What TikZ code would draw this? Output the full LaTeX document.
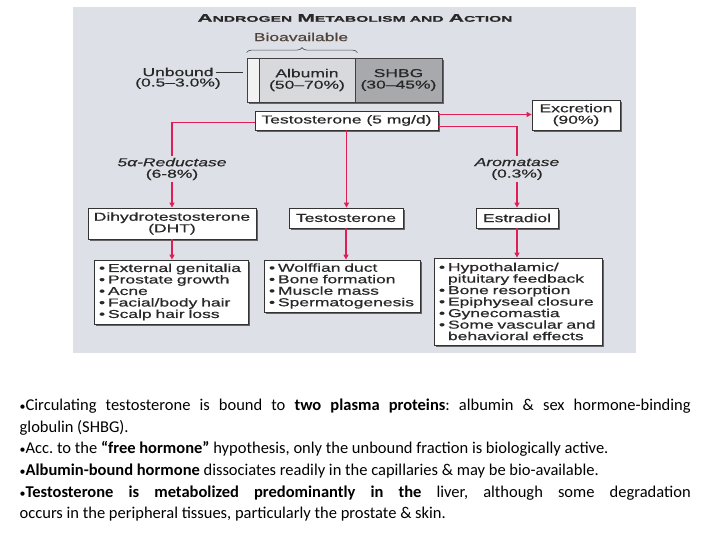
\documentclass[tikz,border=0pt]{standalone}
\usepackage{fontspec}
\usetikzlibrary{arrows.meta,shadows,decorations.pathreplacing}
\newfontfamily\df[FakeStretch=1.52,FakeBold=0.7]{Liberation Sans}
\newfontfamily\tf[FakeStretch=1.9,FakeBold=0.8]{Liberation Sans}
\newfontfamily\cb{Carlito}
\definecolor{panel}{RGB}{221,225,231}
\definecolor{redl}{RGB}{222,30,85}
\definecolor{txt}{RGB}{40,40,40}
\definecolor{albc}{RGB}{216,217,220}
\definecolor{shbgc}{RGB}{168,169,172}
\definecolor{stripc}{RGB}{242,242,242}
\definecolor{bioc}{RGB}{80,66,56}
\newcommand{\bi}{\makebox[9pt][l]{•}}
\newcommand{\ci}{\hspace*{9pt}}
\newcommand{\tsc}[2]{{\fontsize{11}{12}\selectfont #1}{\fontsize{8.2}{12}\selectfont #2}}
\newcommand{\bul}{{\fontsize{12}{12}\selectfont •}}
\begin{document}
\begin{tikzpicture}[x=1pt,y=-1pt,
  dfont/.style={font=\df\fontsize{11.5}{11.5}\selectfont, text=txt},
  wbox/.style={draw=black!80, line width=0.8pt, fill=white, inner sep=0pt,
    drop shadow={shadow xshift=2pt,shadow yshift=-2pt,fill=black!60,opacity=1},
    dfont, align=center},
  lbox/.style={wbox, align=left, inner xsep=5pt},
  lab/.style={dfont, align=center, inner sep=2pt},
  rline/.style={draw=redl, line width=1.3pt},
  rarrow/.style={rline, -{Triangle[length=5pt,width=5pt]}},
  barseg/.style={draw=black!75, line width=0.8pt, minimum height=44pt, inner sep=0pt,
    drop shadow={shadow xshift=2pt,shadow yshift=-2pt,fill=black!60,opacity=1},
    dfont, align=center}]
\useasboundingbox (0,0) rectangle (720,540);
\fill[white] (0,0) rectangle (720,540);
\fill[panel] (73,7) rectangle (636,353);

% title
\node[font=\tf\bfseries, text=txt, inner sep=0pt] (title) at (355,18)
  {\tsc{A}{NDROGEN} \tsc{M}{ETABOLISM AND} \tsc{A}{CTION}};

% bioavailability bar
\node[barseg, fill=stripc, minimum width=12pt] (st) at (253,80) {};
\node[barseg, fill=albc, minimum width=96pt] (al) at (307,80) {Albumin\\(50–70\%)};
\node[barseg, fill=shbgc, minimum width=87pt] (sh) at (398.5,80) {SHBG\\(30–45\%)};
\node[lab, text=bioc] (bio) at (301,37) {Bioavailable};
\draw[decorate, decoration={brace, amplitude=5pt}, black!70, line width=0.6pt]
  ([yshift=5pt]st.north west) -- ([yshift=5pt,xshift=2pt]al.north east);
\node[lab] (ub) at (178,72) {Unbound};
\node[lab] (ubp) at (178,83.5) {(0.5–3.0\%)};
\draw[black!80, line width=0.6pt] (ub.east) -- ([xshift=-4pt]st.west |- ub.east);

% boxes
\node[wbox, minimum width=183pt, minimum height=19pt] (tb) at (346.5,120.5) {Testosterone (5 mg/d)};
\node[wbox, minimum width=88pt, minimum height=30pt] (ex) at (576,115) {Excretion\\(90\%)};
\node[wbox, minimum width=168pt, minimum height=31pt] (dht) at (172,223.5) {Dihydrotestosterone\\(DHT)};
\node[wbox, minimum width=114pt, minimum height=20pt] (te) at (346,218) {Testosterone};
\node[wbox, minimum width=82pt, minimum height=20pt] (e2) at (517,218) {Estradiol};

\node[lbox, text width=144pt, minimum height=64pt] (l1) at (171,292)
  {\bi External genitalia\\ \bi Prostate growth\\ \bi Acne\\ \bi Facial/body hair\\ \bi Scalp hair loss};
\node[lbox, text width=146pt, minimum height=52pt] (l2) at (342,286)
  {\bi Wolffian duct\\ \bi Bone formation\\ \bi Muscle mass\\ \bi Spermatogenesis};
\node[lbox, text width=158pt, minimum height=87pt] (l3) at (518,301.5)
  {\bi Hypothalamic/\\ \ci pituitary feedback\\ \bi Bone resorption\\ \bi Epiphyseal closure\\ \bi Gynecomastia\\ \bi Some vascular and\\ \ci behavioral effects};

% enzyme labels
\node[lab] (red) at (172,169) {\textit{5α-Reductase}\\(6-8\%)};
\node[lab] (aro) at (517,169) {\textit{Aromatase}\\(0.3\%)};

% connectors
\draw[rline] ([yshift=-2pt]tb.west) -| (red.north);
\draw[rarrow] (red.south) -- (dht.north);
\draw[rarrow] (tb.south) -- (tb.south |- te.north);
\draw[rline] ([yshift=-6pt]tb.east) -| (aro.north);
\draw[rarrow] (aro.south) -- (e2.north);
\draw[rarrow] ([yshift=6pt]tb.east) coordinate (ea) -- (ea -| ex.west);
\draw[rarrow] (dht.south) -- (dht.south |- l1.north);
\draw[rarrow] (te.south) -- (te.south |- l2.north);
\draw[rarrow] (e2.south) -- (e2.south |- l3.north);

% body text
\node[anchor=north west, inner sep=0pt, text width=671pt, align=justify,
  font=\cb\fontsize{16.5}{21.6}\selectfont, text=black] (body) at (19.5,399)
{\hyphenpenalty=10000 \emergencystretch=20pt \frenchspacing
\bul Circulating testosterone is bound to \textbf{two plasma proteins}: albumin \& sex \mbox{hormone-binding}\linebreak globulin (SHBG).\par
\bul Acc. to the \textbf{“free hormone”} hypothesis, only the unbound fraction is biologically active.\par
\bul\textbf{Albumin-bound hormone} dissociates readily in the capillaries \& may be bio-available.\par
\bul\textbf{Testosterone is metabolized predominantly in the} liver, although some degradation\linebreak occurs in the peripheral tissues, particularly the prostate \& skin.};
\end{tikzpicture}
\end{document}
